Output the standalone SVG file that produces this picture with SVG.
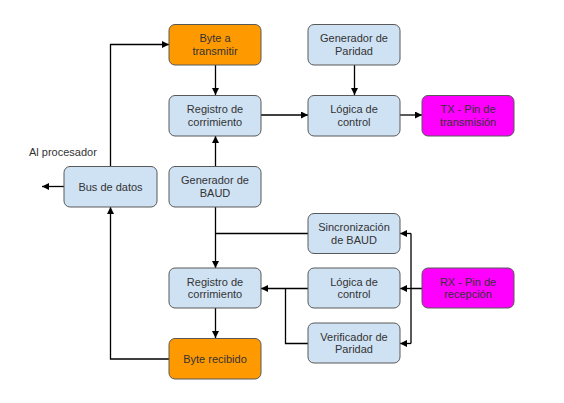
<svg xmlns="http://www.w3.org/2000/svg" width="564" height="403" viewBox="0 0 564 403">
<defs>
<marker id="ah" viewBox="0 0 10 10" refX="10" refY="5" markerWidth="7" markerHeight="7" markerUnits="userSpaceOnUse" orient="auto">
<path d="M0,0 L10,5 L0,10 z" fill="#000"/>
</marker>
<style>
.b{fill:#cfe2f3;stroke:#595959;stroke-width:1}
.o{fill:#ff9900;stroke:#595959;stroke-width:1}
.m{fill:#ff00ff;stroke:#595959;stroke-width:1}
text{font-family:"Liberation Sans",Arial,sans-serif;font-size:11px;fill:#333;text-anchor:middle}
.c path{fill:none;stroke:#000;stroke-width:1.3}
.a{marker-end:url(#ah)}
</style>
</defs>
<rect width="564" height="403" fill="#fff"/>
<g class="c" id="connectors">
<path class="a" d="M110.5,166 V44.5 H169"/>
<path class="a" d="M215.5,65 V95"/>
<path class="a" d="M215.5,166 V136"/>
<path class="a" d="M261,115 H308"/>
<path class="a" d="M354.5,65 V95"/>
<path class="a" d="M400,115 H422"/>
<path class="a" d="M64,186.5 H42"/>
<path class="a" d="M215.5,207 V268"/>
<path d="M308,233.5 H215.5"/>
<path class="a" d="M308,288.5 H261"/>
<path d="M308,343.5 H285.5 V288.5"/>
<path d="M422,288.5 H411 M411,233.5 V343.5"/>
<path class="a" d="M411,233.5 H400"/>
<path class="a" d="M411,288.5 H400"/>
<path class="a" d="M411,343.5 H400"/>
<path class="a" d="M215.5,308 V338"/>
<path class="a" d="M169,359 H110.5 V207"/>
</g>
<text x="29" y="155.5" style="text-anchor:start">Al procesador</text>
<g id="byteTx"><rect class="o" x="169" y="24.5" width="92" height="40.5" rx="6"/><text x="215" y="42">Byte a</text><text x="215" y="54.7">transmitir</text></g>
<g id="regTx"><rect class="b" x="169" y="95.5" width="92" height="40.5" rx="6"/><text x="215" y="113">Registro de</text><text x="215" y="125.7">corrimiento</text></g>
<g id="genPar"><rect class="b" x="308" y="24.5" width="92" height="40.5" rx="6"/><text x="354" y="42">Generador de</text><text x="354" y="54.7">Paridad</text></g>
<g id="logTx"><rect class="b" x="308" y="95.5" width="92" height="40.5" rx="6"/><text x="354" y="113">Lógica de</text><text x="354" y="125.7">control</text></g>
<g id="tx"><rect class="m" x="422" y="95.5" width="92" height="40.5" rx="6"/><text x="468" y="113">TX - Pin de</text><text x="468" y="125.7">transmisión</text></g>
<g id="bus"><rect class="b" x="64" y="166.5" width="93" height="40.5" rx="6"/><text x="110.5" y="190.5">Bus de datos</text></g>
<g id="genBaud"><rect class="b" x="169" y="166.5" width="92" height="40.5" rx="6"/><text x="215" y="184">Generador de</text><text x="215" y="196.7">BAUD</text></g>
<g id="sinc"><rect class="b" x="308" y="213.5" width="92" height="40" rx="6"/><text x="354" y="231">Sincronización</text><text x="354" y="243.7">de BAUD</text></g>
<g id="regRx"><rect class="b" x="169" y="268" width="92" height="40" rx="6"/><text x="215" y="285.5">Registro de</text><text x="215" y="298.2">corrimiento</text></g>
<g id="logRx"><rect class="b" x="308" y="268" width="92" height="40" rx="6"/><text x="354" y="285.5">Lógica de</text><text x="354" y="298.2">control</text></g>
<g id="rx"><rect class="m" x="422" y="268" width="92" height="40" rx="6"/><text x="468" y="285.5">RX - Pin de</text><text x="468" y="298.2">recepción</text></g>
<g id="ver"><rect class="b" x="308" y="323" width="92" height="40" rx="6"/><text x="354" y="340.5">Verificador de</text><text x="354" y="353.2">Paridad</text></g>
<g id="byteRx"><rect class="o" x="169" y="338.5" width="92" height="40.5" rx="6"/><text x="215" y="362.5">Byte recibido</text></g>
</svg>
